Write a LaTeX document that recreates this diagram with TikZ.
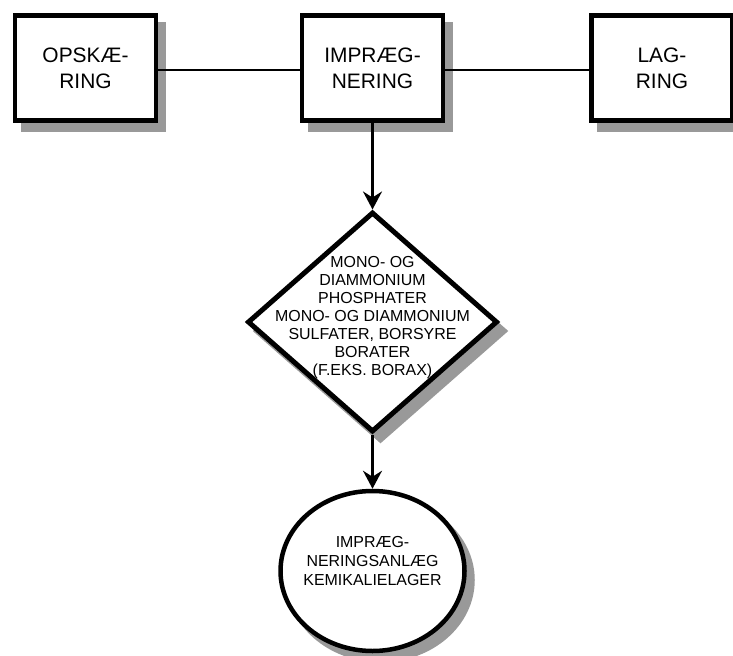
\documentclass[tikz,border=0pt]{standalone}
\usepackage{fontspec}
\setmainfont{Liberation Sans}
\usetikzlibrary{shapes.geometric,arrows.meta}
\definecolor{shadowgray}{HTML}{999999}
\begin{document}
\begin{tikzpicture}[x=1bp,y=-1bp,
  shadowed/.style={preaction={fill=shadowgray,draw=shadowgray,
      transform canvas={xshift=8bp,yshift=-9bp}}},
  stage/.style={shadowed,draw,fill=white,rectangle,line width=4.5bp,
      minimum width=141bp,minimum height=105bp,inner sep=0pt,
      align=center,font=\fontsize{21}{26.5}\selectfont},
  chemical/.style={shadowed,draw,fill=white,diamond,line width=5bp,
      minimum width=250bp,minimum height=220bp,inner sep=0pt,
      font=\fontsize{16}{18}\selectfont},
  plant/.style={shadowed,draw,fill=white,ellipse,line width=4.5bp,
      minimum width=184bp,minimum height=160bp,inner sep=0pt,
      font=\fontsize{16}{19}\selectfont},
  link/.style={line width=2.2bp},
  flow/.style={line width=2.4bp,-{Stealth[length=18bp,width=19bp,inset=6bp]}}]
  \useasboundingbox (0,0) rectangle (733,656);
  \clip (0,0) rectangle (733,656);
  \fill[white] (0,0) rectangle (733,656);

  % process stages along the top
  \node[stage] (ops) at (85.5,68) {OPSKÆ-\\RING};
  \node[stage] (imp) at (372.5,68) {IMPRÆG-\\NERING};
  \node[stage] (lag) at (662,68) {LAG-\\RING};

  % chemicals used for impregnation
  \node[chemical] (chem) at (372.5,322)
    {\makebox[0pt]{\smash{\begin{tabular}{@{}c@{}}
      MONO- OG\\ DIAMMONIUM\\ PHOSPHATER\\ MONO- OG DIAMMONIUM\\
      SULFATER, BORSYRE\\ BORATER\\ (F.EKS. BORAX)\end{tabular}}}};

  % plant and chemical storage
  \node[plant] (ell) at (372.5,571)
    {\raisebox{8bp}{\makebox[0pt]{\smash{\begin{tabular}{@{}c@{}}
      IMPRÆG-\\ NERINGSANLÆG\\ KEMIKALIELAGER\end{tabular}}}}};

  % connectors
  \draw[link] ([yshift=-2bp]ops.east) -- ([yshift=-2bp]imp.west);
  \draw[link] ([yshift=-2bp]imp.east) -- ([yshift=-2bp]lag.west);
  \draw[flow] (imp.south) -- (chem.north);
  \draw[flow] (chem.south) -- (ell.north);
\end{tikzpicture}
\end{document}
